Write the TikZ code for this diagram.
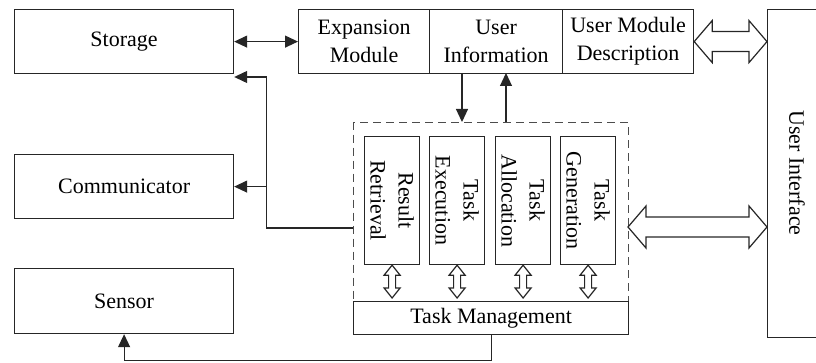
\documentclass[tikz,border=0pt]{standalone}
\usepackage{fontspec}
\setmainfont{Liberation Serif}
\usetikzlibrary{arrows.meta,calc,positioning}
\newcommand\hollowH[2]{\draw[ln] let \p1=(#1),\p2=(#2) in (\x1,\y1) -- (\x1+9pt,\y1+10.5pt) -- (\x1+9pt,\y1+5pt) -- (\x2-9pt,\y1+5pt) -- (\x2-9pt,\y1+10.5pt) -- (\x2,\y1) -- (\x2-9pt,\y1-10.5pt) -- (\x2-9pt,\y1-5pt) -- (\x1+9pt,\y1-5pt) -- (\x1+9pt,\y1-10.5pt) -- cycle;}
\newcommand\hollowV[2]{\draw[ln] let \p1=(#1),\p2=(#2) in (\x1,\y1) -- (\x1+4pt,\y1-5pt) -- (\x1+1.75pt,\y1-5pt) -- (\x1+1.75pt,\y2+5pt) -- (\x1+4pt,\y2+5pt) -- (\x1,\y2) -- (\x1-4pt,\y2+5pt) -- (\x1-1.75pt,\y2+5pt) -- (\x1-1.75pt,\y1-5pt) -- (\x1-4pt,\y1-5pt) -- cycle;}
\tikzset{
  ln/.style={draw=black!85, line width=0.6pt},
  box/.style={ln, anchor=north west, inner sep=0pt, align=center, font=\fontsize{11}{14}\selectfont},
  sz/.style 2 args={minimum width=#1*0.5pt, minimum height=#2*0.5pt},
  arr/.style={ln, -{Triangle[length=6.5pt,width=6pt]}},
  darr/.style={ln, {Triangle[length=6.5pt,width=6pt]}-{Triangle[length=6.5pt,width=6pt]}},
  vtext/.style={rotate=-90, align=center, font=\fontsize{11}{14}\selectfont}
}
\begin{document}
\begin{tikzpicture}[x=0.5pt,y=-0.5pt]
\useasboundingbox (0,0) rectangle (816,363);
% left column
\node[box, sz={219}{64}] (storage) at (14,9) {Storage};
\node[box, sz={219}{64}] (comm) at (14,154) {Communicator};
\node[box, sz={219}{65}] (sensor) at (14,268) {Sensor};
% top row
\node[box, sz={131}{64}] (exp) at (298,9) {Expansion\\Module};
\node[box, sz={133}{64}] (uinfo) at (429,9) {User\\Information};
\node[box, sz={131}{64}] (udesc) at (562,9) {User Module\\Description};
% user interface
\node[box, sz={60}{328}] (ui) at (767,9) {};
\node[vtext] (uitext) at (797,173) {User Interface};
% task area
\node[ln, dashed, dash pattern=on 4pt off 2.5pt, draw=black!70, anchor=north west, inner sep=0pt, sz={275}{179}] (taskarea) at (353,122) {};
\node[box, fill=white, sz={275}{33}] (tm) at (353,301) {Task Management};
\node[box, sz={55}{128}] (rr) at (364,136) {};
\node[box, sz={55}{128}] (te) at (429,136) {};
\node[box, sz={55}{128}] (ta) at (495,136) {};
\node[box, sz={55}{128}] (tg) at (560,136) {};
\node[vtext] at (rr.center) {Result\\Retrieval};
\node[vtext] at (te.center) {Task\\Execution};
\node[vtext] at (ta.center) {Task\\Allocation};
\node[vtext] at (tg.center) {Task\\Generation};
% small hollow double arrows
\foreach \b in {rr,te,ta,tg}{
  \coordinate (\b top) at (\b.south);
  \coordinate (\b bot) at ($(\b.south |- tm.north)+(0,-3)$);
  \hollowV{\b top}{\b bot}
}
% big hollow double arrows
\hollowH{udesc.east}{ui.west |- udesc.east}
\coordinate (tabig) at (628,227);
\hollowH{tabig}{ui.west |- tabig}
% storage <-> expansion
\draw[darr] (storage.east) -- (exp.west);
% user info arrows
\coordinate (downA) at (462,73);
\coordinate (upA) at (506,73);
\draw[arr] (downA) -- (downA |- taskarea.north);
\draw[arr] (upA |- taskarea.north) -- (upA);
% result retrieval to storage and communicator
\coordinate (rrout) at (353,228);
\coordinate (bend) at (266.5,77);
\draw[arr] (rrout) -| (bend) -- (storage.east |- bend);
\draw[arr] (bend |- comm.east) -- (comm.east);
% task management to sensor
\draw[arr] (tm.south) -- ++(0,25) -| (sensor.south);
\end{tikzpicture}
\end{document}
